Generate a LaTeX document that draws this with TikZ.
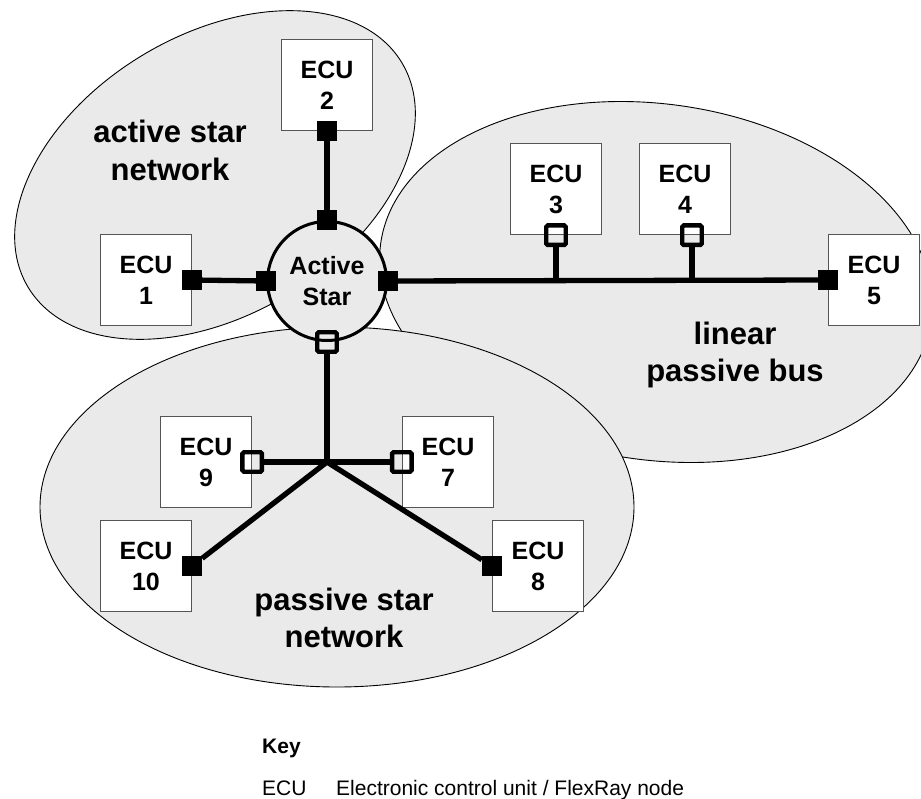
\documentclass[tikz,border=0pt]{standalone}
\usepackage{fontspec}
\setmainfont{Liberation Sans}
\definecolor{zonegrey}{RGB}{234,234,234}
\definecolor{boxedge}{RGB}{85,85,85}

\begin{document}
\begin{tikzpicture}[x=1pt,y=-1pt,
  zone/.style={fill=zonegrey,draw=black,line width=0.9pt},
  ecu/.style={rectangle,draw=boxedge,fill=white,line width=1.3pt,
    minimum width=91pt,minimum height=91pt,inner sep=0pt,align=center,
    font=\fontsize{25}{31}\selectfont\bfseries},
  hubstar/.style={circle,draw=black,fill=zonegrey,line width=3pt,
    minimum size=119pt,inner sep=0pt,align=center,
    font=\fontsize{25}{31.5}\selectfont\bfseries},
  port/.style={rectangle,fill=black,minimum size=20pt,inner sep=0pt,outer sep=0pt},
  tap/.style={rectangle,draw=black,line width=4.4pt,rounded corners=1.5pt,
    minimum size=19.5pt,inner sep=0pt},
  wire/.style={line width=5.3pt},
  netlabel/.style={align=center,inner sep=0pt,font=\fontsize{31}{37.5}\selectfont\bfseries},
  keyline/.style={anchor=base west,inner sep=0pt,font=\fontsize{21}{25}\selectfont},
]
\useasboundingbox (0,0) rectangle (921,798);

% network zones
\path[zone,rotate around={-8:(656,282)}] (656,282) ellipse [x radius=278pt, y radius=178pt];
\path[zone] (337,507) ellipse [x radius=297pt, y radius=180pt];
\path[zone,rotate around={31:(215,175)}] (215,175) ellipse [x radius=218pt, y radius=140pt];

% zone labels
\node[netlabel] (lblactive) at (170,150.5) {active star\\network};
\node[netlabel] (lblbus) at (735,355) {linear\\passive bus};
\node[netlabel] (lblpassive) at (344,618) {passive star\\network};

% control units
\node[ecu] (e1) at (146,280) {ECU\\1};
\node[ecu] (e2) at (327,85) {ECU\\2};
\node[ecu] (e3) at (556,189) {ECU\\3};
\node[ecu] (e4) at (685,189) {ECU\\4};
\node[ecu] (e5) at (874,280) {ECU\\5};
\node[ecu] (e7) at (448,462) {ECU\\7};
\node[ecu] (e8) at (538,566) {ECU\\8};
\node[ecu] (e9) at (206,462) {ECU\\9};
\node[ecu] (e10) at (146,566) {ECU\\10};

% active star coupler
\node[hubstar] (star) at (327,281) {Active\\Star};

% active ports
\node[port] (e1p) at (e1.east) {};
\node[port] (e2p) at (e2.south) {};
\node[port] (e5p) at (e5.west) {};
\node[port] (e8p) at (e8.west) {};
\node[port] (e10p) at (e10.east) {};
\node[port] (sN) at (star.north) {};
\node[port] (sW) at (star.west) {};
\node[port] (sE) at (star.east) {};

% passive taps
\node[tap] (sS) at (star.south) {};
\node[tap] (t3) at (e3.south) {};
\node[tap] (t4) at ([xshift=7pt]e4.south) {};
\node[tap] (t9) at (e9.east) {};
\node[tap] (t7) at (e7.west) {};

% junction points
\coordinate (j3) at (t3 |- sE);
\coordinate (j4) at (t4 |- sE);
\coordinate (hub) at (327,462);

% wiring
\draw[wire] (e2p) -- (sN);
\draw[wire] (e1p) -- (sW);
\draw[wire] (sE) -- (e5p);
\draw[wire] (t3) -- (j3);
\draw[wire] (t4) -- (j4);
\draw[wire] (sS) -- (hub);
\draw[wire] (t9) -- (t7);
\draw[wire,line join=miter] (e10p) -- (hub) -- (e8p);

% key
\node[keyline,font=\fontsize{21}{25}\selectfont\bfseries] (keyhead) at (262,753) {Key};
\node[keyline] (keyabbr) at (262,795) {ECU};
\node[keyline] (keytext) at (336,795) {Electronic control unit / FlexRay node};
\end{tikzpicture}
\end{document}
